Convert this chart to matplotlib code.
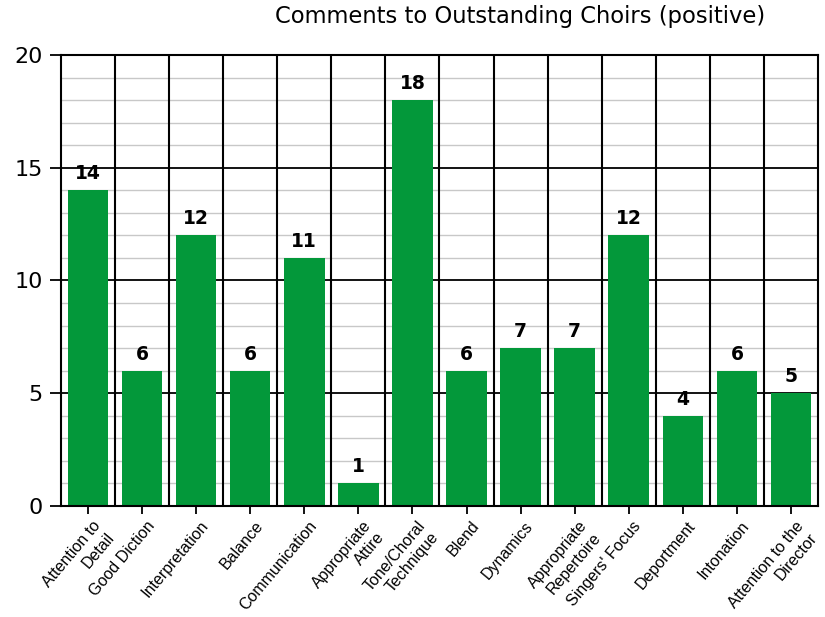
import matplotlib
matplotlib.use("Agg")
import matplotlib.pyplot as plt
import matplotlib.transforms as mtransforms
from matplotlib.ticker import MultipleLocator

categories = [
    "Attention to\nDetail", "Good Diction", "Interpretation", "Balance",
    "Communication", "Appropriate\nAttire", "Tone/Choral\nTechnique", "Blend",
    "Dynamics", "Appropriate\nRepertoire", "Singers' Focus", "Deportment",
    "Intonation", "Attention to the\nDirector",
]
counts = [14, 6, 12, 6, 11, 1, 18, 6, 7, 7, 12, 4, 6, 5]
y_ticks = [0, 5, 10, 15, 20]

plt.rcParams["font.family"] = ["DejaVu Sans"]

fig = plt.figure(figsize=(8.25, 6.17), dpi=100)
ax = fig.add_axes([0.0739, 0.1799, 0.9176, 0.7310])

x = list(range(len(categories)))
ax.bar(x, counts, width=0.75, color="#03983a", zorder=3)

ax.set_xlim(-0.5, len(categories) - 0.5)
ax.set_ylim(0, 20)
ax.set_yticks(y_ticks)
ax.yaxis.set_minor_locator(MultipleLocator(1))

# minor grid grey, major grid black, both behind the bars
ax.grid(which="minor", axis="y", color="#c8c8c8", linewidth=1.0, zorder=1)
ax.grid(which="major", axis="y", color="black", linewidth=1.3, zorder=2)
ax.set_axisbelow(True)

# black separators between categories
for k in range(len(categories) - 1):
    ax.axvline(k + 0.5, color="black", linewidth=1.5, zorder=4)

for side in ["left", "right", "top", "bottom"]:
    ax.spines[side].set_linewidth(1.5)
    ax.spines[side].set_zorder(5)

ax.tick_params(axis="y", which="major", length=8, width=1.3, labelsize=16, pad=5)
ax.tick_params(axis="y", which="minor", length=0)
ax.tick_params(axis="x", length=6, width=1.3, pad=0)

ax.set_xticks(x)
ax.set_xticklabels(categories, rotation=50, ha="right", va="top",
                   rotation_mode="anchor", linespacing=1.25,
                   family=["Liberation Sans"], fontsize=11.5)
offset = mtransforms.ScaledTranslation(4 / 100, -4 / 100, fig.dpi_scale_trans)
for lab in ax.get_xticklabels():
    lab.set_transform(lab.get_transform() + offset)

for xi, v in zip(x, counts):
    ax.annotate(str(v), (xi, v), xytext=(0, 8), textcoords="offset points",
                ha="center", va="baseline", fontsize=13.5, fontweight="bold",
                zorder=6)

fig.text(0.631, 0.974, "Comments to Outstanding Choirs (positive)",
         ha="center", va="center", fontsize=16.3)

fig.savefig("out.png", dpi=100)
